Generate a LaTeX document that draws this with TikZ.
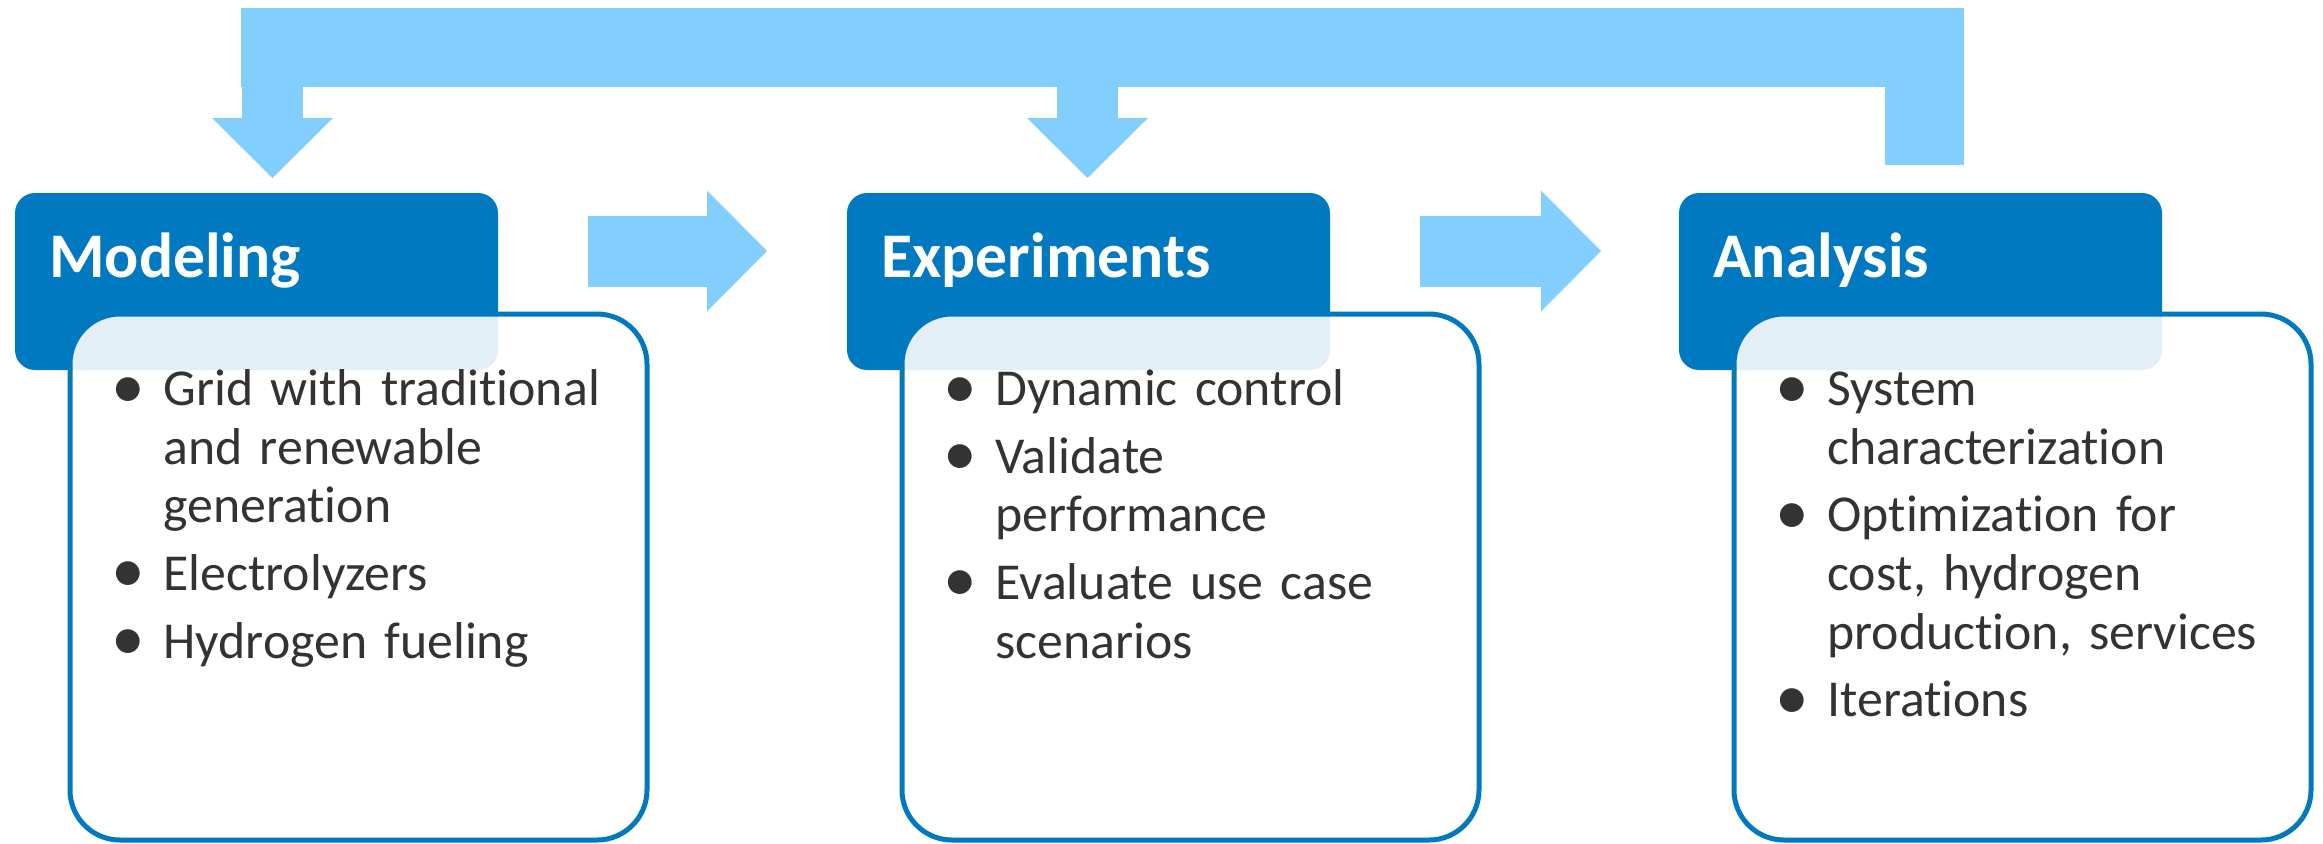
\documentclass[tikz,border=0pt]{standalone}
\usepackage{fontspec}
\setmainfont{Carlito}[Ligatures=NoCommon]
\usepackage{xcolor}
\usetikzlibrary{arrows.meta,positioning}
\definecolor{headblue}{RGB}{0,121,193}
\definecolor{skyarrow}{RGB}{130,207,255}
\definecolor{bodytext}{RGB}{51,51,51}
\newcommand{\bpoint}[1]{\par\hangindent=22.5pt\hangafter=1\noindent\makebox[22.5pt][l]{\hspace*{-3.5pt}\raisebox{-1.2pt}{\scalebox{1.3}{\textbullet}}}#1\par}

\begin{document}
\begin{tikzpicture}[x=0.5pt,y=-0.5pt]
        \tikzstyle{head}=[fill=headblue, rounded corners=10pt, minimum width=241.5pt, minimum height=88.5pt, inner sep=0pt]
        \tikzstyle{title}=[anchor=base west, text=white, inner sep=0pt, font=\fontsize{31.8}{36}\selectfont\bfseries]
        \tikzstyle{body}=[draw=headblue, line width=2.5pt, fill=white, fill opacity=0.885, rounded corners=25pt, minimum width=288.5pt, minimum height=263pt, inner sep=0pt]
        \tikzstyle{items}=[anchor=base west, text=bodytext, text width=270pt, inner sep=0pt, font=\fontsize{25.9}{29.3}\selectfont]
        \tikzstyle{bigtip}=[-{Triangle[length=30pt, width=60.5pt, line width=0pt]}]
        \useasboundingbox (0,0) rectangle (2323,843);

        \begin{scope}[shift={(0,0)}]
            % Header box
            \node (modhead)[head] at (256.5,281.5) {};
            \node (modtitle)[title] at (49,277) {Modeling};
            % Content box
            \node (modbody)[body] at (358.5,577) {};
            \node (moditems)[items] at (118,338) {\setlength{\parskip}{4.5pt}%
                \bpoint{Grid with traditional\newline and renewable\newline generation}
                \bpoint{Electrolyzers}
                \bpoint{Hydrogen fueling}};
        \end{scope}

        \begin{scope}[shift={(832,0)}]
            % Header box
            \node (exphead)[head] at (256.5,281.5) {};
            \node (exptitle)[title] at (49,277) {Experiments};
            % Content box
            \node (expbody)[body] at (358.5,577) {};
            \node (expitems)[items] at (118,338) {\setlength{\parskip}{4.5pt}%
                \bpoint{Dynamic control}
                \bpoint{Validate\newline performance}
                \bpoint{Evaluate use case\newline scenarios}};
        \end{scope}

        \begin{scope}[shift={(1664,0)}]
            % Header box
            \node (anahead)[head] at (256.5,281.5) {};
            \node (anatitle)[title] at (49,277) {Analysis};
            % Content box
            \node (anabody)[body] at (358.5,577) {};
            \node (anaitems)[items] at (118,338) {\setlength{\parskip}{4.5pt}%
                \bpoint{System\newline characterization}
                \bpoint{Optimization for\newline cost, hydrogen\newline production, services}
                \bpoint{Iterations}};
        \end{scope}

        % --- Block arrows between the stages ---
        \coordinate (m2e) at (588,251);
        \coordinate (m2etip) at (767,251);
        \coordinate (e2a) at (1420,251);
        \coordinate (e2atip) at (1601,251);
        \draw[skyarrow, line width=35.5pt, bigtip] (m2e) -- (m2etip);
        \draw[skyarrow, line width=35.5pt, bigtip] (e2a) -- (e2atip);

        % --- Feedback loop back to the start ---
        \coordinate (fbfoot) at (1924.5,165);
        \coordinate (fbcorner) at (1924.5,47);
        \coordinate (fbend) at (241,47);
        \coordinate (fbmod) at (272.5,47);
        \coordinate (fbexp) at (1087.5,47);
        \draw[skyarrow, line width=39.5pt] (fbfoot) -- (fbcorner) -- (fbend);
        \draw[skyarrow, line width=30.5pt, bigtip] (fbmod) -- (fbmod |- 0,178);
        \draw[skyarrow, line width=30.5pt, bigtip] (fbexp) -- (fbexp |- 0,178);
    \end{tikzpicture}
\end{document}
